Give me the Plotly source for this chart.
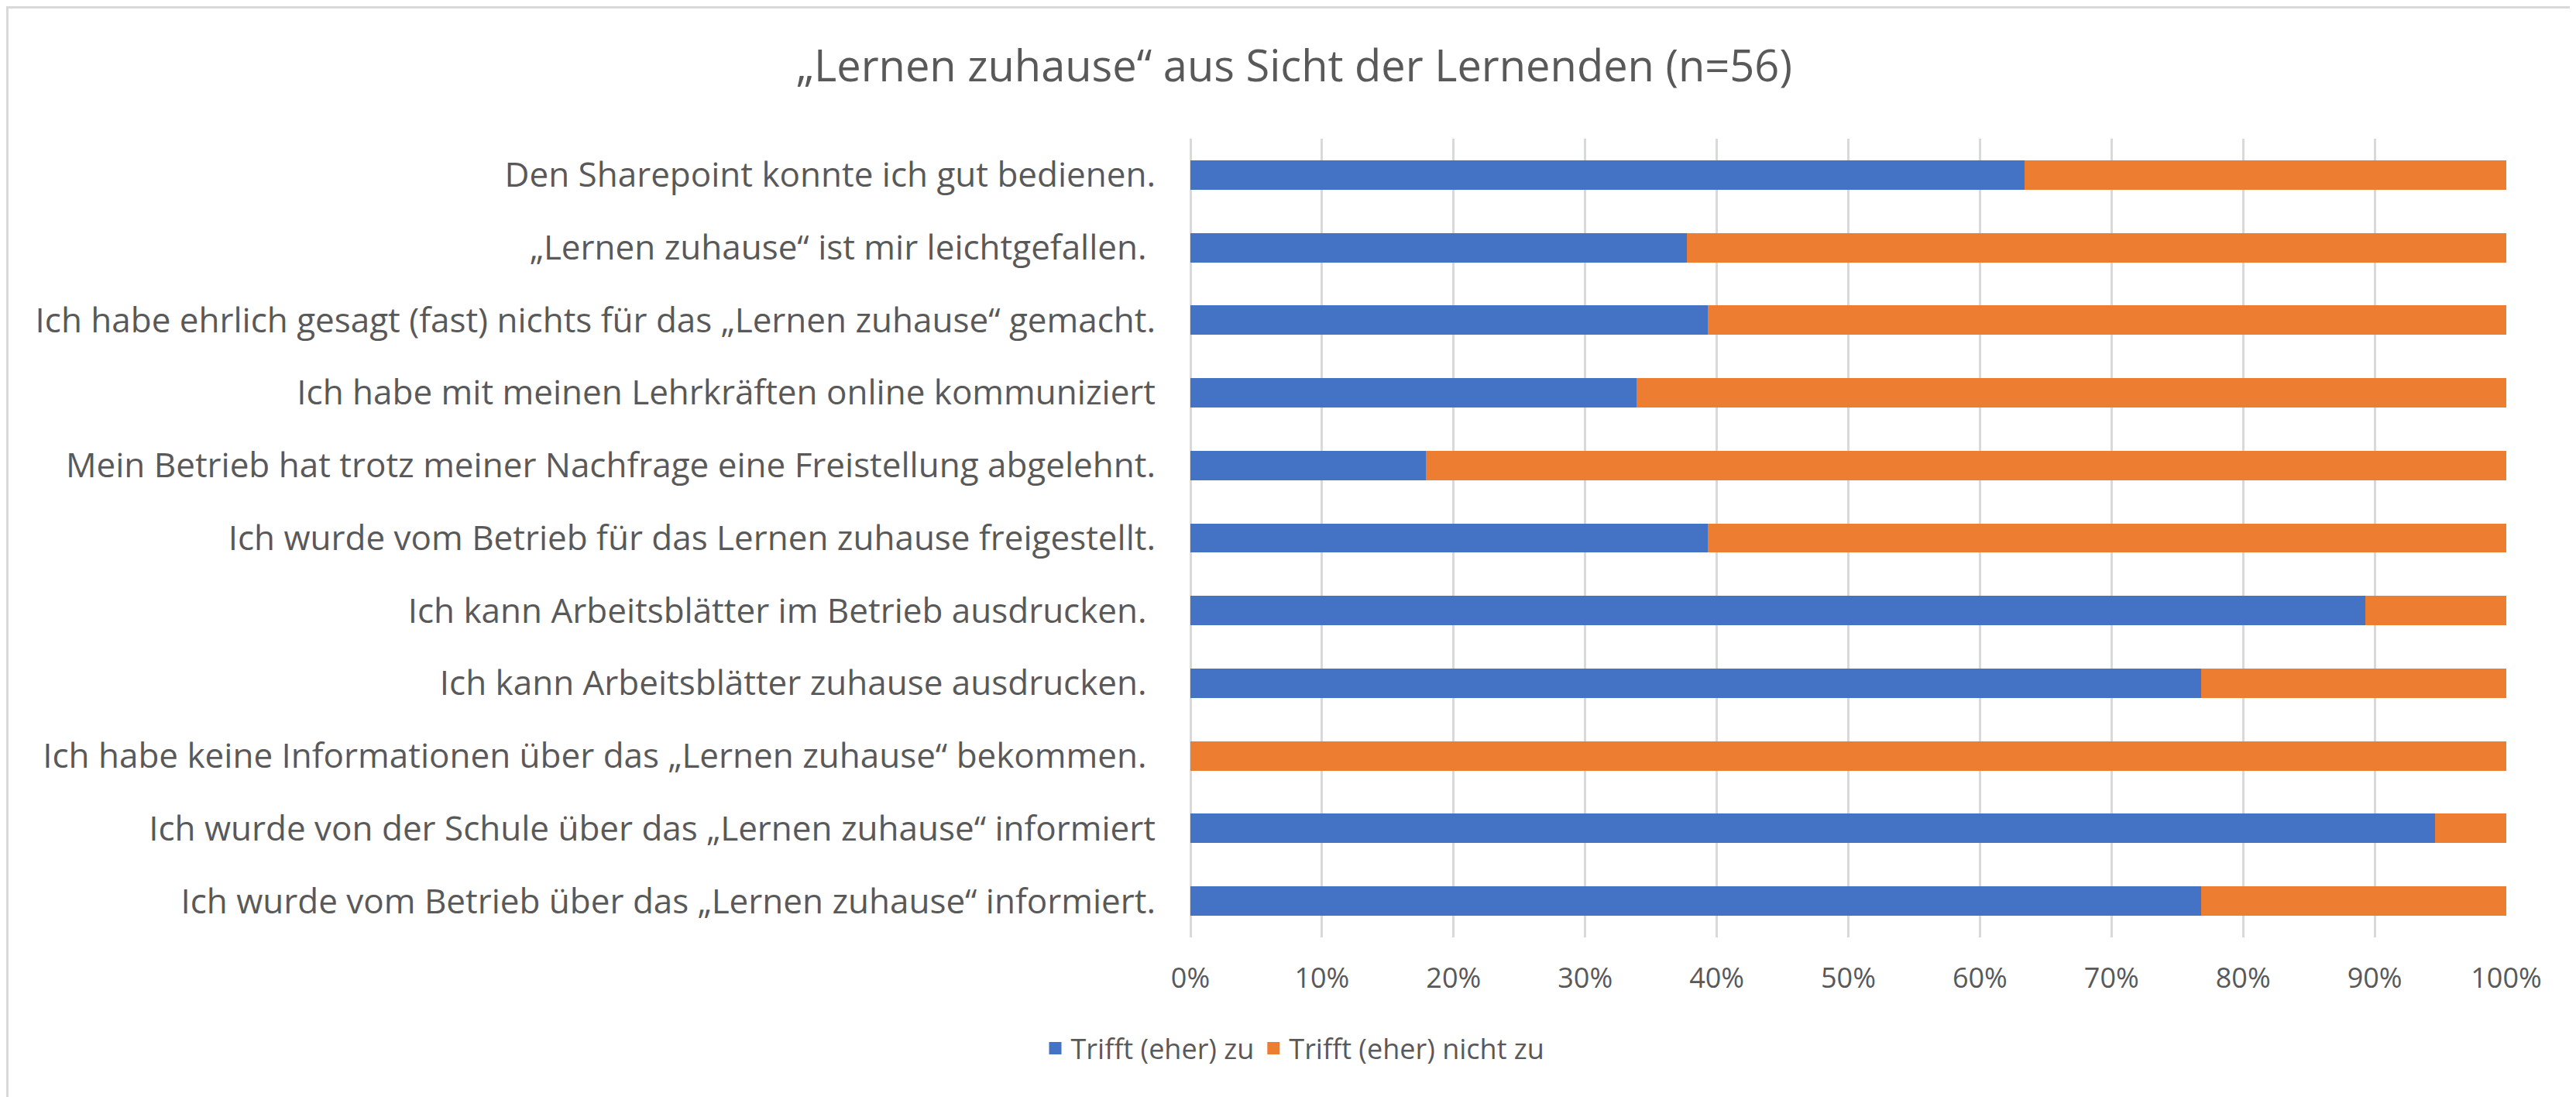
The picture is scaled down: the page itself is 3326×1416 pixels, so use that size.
import plotly.graph_objects as go

# Aussagen (von oben nach unten wie im Original)
aussagen = [
    "Den Sharepoint konnte ich gut bedienen.",
    "„Lernen zuhause“ ist mir leichtgefallen.\u00a0",
    "Ich habe ehrlich gesagt (fast) nichts für das „Lernen zuhause“ gemacht.",
    "Ich habe mit meinen Lehrkräften online kommuniziert",
    "Mein Betrieb hat trotz meiner Nachfrage eine Freistellung abgelehnt.",
    "Ich wurde vom Betrieb für das Lernen zuhause freigestellt.",
    "Ich kann Arbeitsblätter im Betrieb ausdrucken.\u00a0",
    "Ich kann Arbeitsblätter zuhause ausdrucken.\u00a0",
    "Ich habe keine Informationen über das „Lernen zuhause“ bekommen.\u00a0",
    "Ich wurde von der Schule über das „Lernen zuhause“ informiert",
    "Ich wurde vom Betrieb über das „Lernen zuhause“ informiert.",
]

# Anteile in Prozent
trifft_zu = [63.4, 37.7, 39.3, 33.9, 17.9, 39.3, 89.3, 76.8, 0.0, 94.6, 76.8]
trifft_nicht_zu = [36.6, 62.3, 60.7, 66.1, 82.1, 60.7, 10.7, 23.2, 100.0, 5.4, 23.2]

x_ticks = [0, 10, 20, 30, 40, 50, 60, 70, 80, 90, 100]
x_labels = [str(v) + "%" for v in x_ticks]

titel = "„Lernen zuhause“ aus Sicht der Lernenden (n=56)"
serien = ["Trifft (eher) zu", "Trifft (eher) nicht zu"]

BLAU = "#4472C4"
ORANGE = "#ED7D31"
GRAU = "#595959"
FONT = "Open Sans"

W, H = 3326, 1416
ML, MR, MT, MB = 1529, 98, 171, 214

fig = go.Figure()
for werte, name, farbe in [(trifft_zu, serien[0], BLAU), (trifft_nicht_zu, serien[1], ORANGE)]:
    fig.add_trace(go.Bar(y=aussagen, x=werte, orientation="h", name=name,
                         marker=dict(color=farbe, line=dict(width=0)),
                         showlegend=False))
    # nur fuer die Legende (groessere Quadrate)
    fig.add_trace(go.Scatter(x=[None], y=[None], mode="markers", name=name,
                             marker=dict(symbol="square", size=20, color=farbe)))

fig.update_layout(
    width=W, height=H,
    margin=dict(l=ML, r=MR, t=MT, b=MB),
    barmode="stack", bargap=0.595,
    paper_bgcolor="white", plot_bgcolor="white",
    font=dict(family=FONT, color=GRAU, size=36),
    title=dict(text=titel, x=0.5, xref="container", xanchor="center",
               y=1 - 77 / H, yref="container", yanchor="middle",
               font=dict(size=56, color=GRAU, family=FONT)),
    legend=dict(orientation="h", x=0.5, xref="container", xanchor="center",
                y=1 - 1345 / H, yref="container", yanchor="middle",
                font=dict(size=36, color=GRAU), traceorder="normal",
                itemwidth=30),
    showlegend=True,
)

fig.update_xaxes(range=[0, 100], tickvals=x_ticks, ticktext=x_labels,
                 showgrid=True, gridcolor="#D9D9D9", gridwidth=2.5,
                 zeroline=True, zerolinecolor="#D9D9D9", zerolinewidth=2.5,
                 showline=False, ticks="", ticklabelstandoff=28,
                 tickfont=dict(size=36, color=GRAU))
fig.update_yaxes(categoryorder="array", categoryarray=aussagen,
                 autorange="reversed", showgrid=False, showline=False,
                 ticks="", ticklabelstandoff=44,
                 tickfont=dict(size=44, color=GRAU))

# Rahmen um das Diagramm
pw = W - ML - MR
ph = H - MT - MB
fig.add_shape(type="rect", xref="paper", yref="paper",
              x0=-(ML - 1.5) / pw, x1=1 + (MR - 1.5) / pw,
              y0=-(MB - 1.5) / ph, y1=1 + (MT - 1.5) / ph,
              line=dict(color="#D9D9D9", width=3), fillcolor="rgba(0,0,0,0)",
              layer="below")

fig.write_html("out.html")
